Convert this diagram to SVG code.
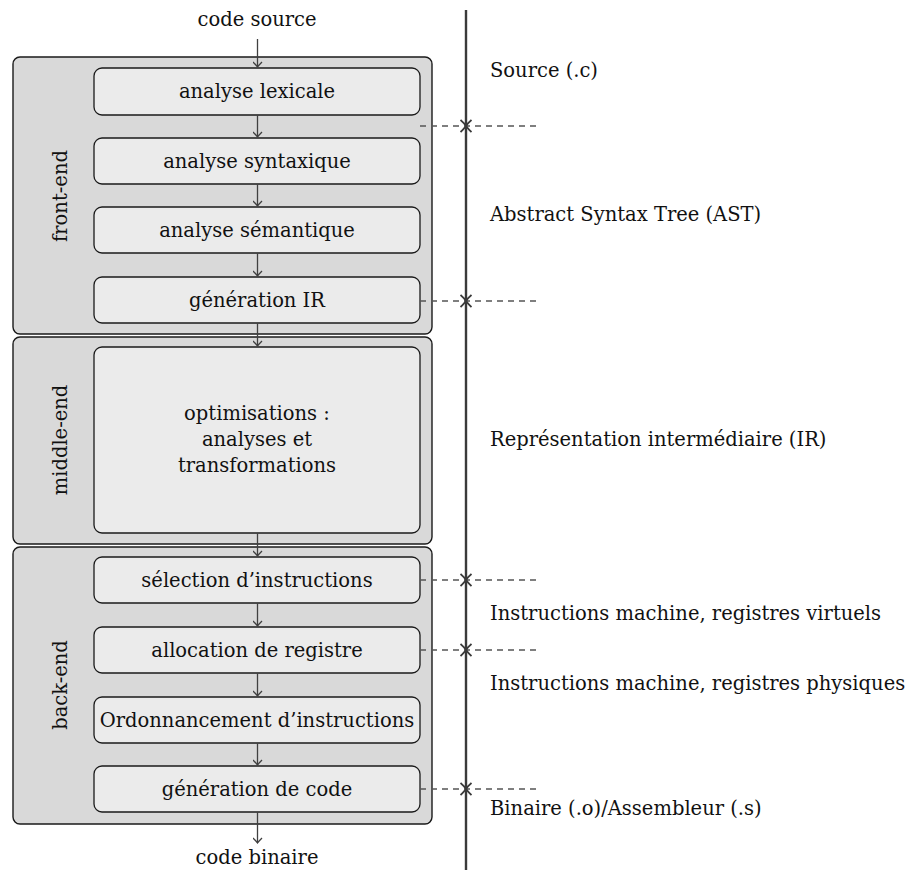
<svg xmlns="http://www.w3.org/2000/svg" width="912" height="870" viewBox="0 0 912 870">
<defs>
<style>
text{font-family:"DejaVu Serif","Liberation Serif",serif;font-size:19.5px;fill:#111}
.c{text-anchor:middle}
.outer{fill:#d9d9d9;stroke:#1a1a1a;stroke-width:1.4}
.inner{fill:#ebebeb;stroke:#1a1a1a;stroke-width:1.3}
.flow{stroke:#404040;stroke-width:1.3;fill:none;marker-end:url(#tip)}
.axis{stroke:#3a3a3a;stroke-width:2.4;fill:none}
.dash{stroke:#555;stroke-width:1.3;stroke-dasharray:6 5;fill:none}
</style>
<marker id="tip" viewBox="-6 -5 7 10" refX="0" refY="0" markerWidth="7" markerHeight="10" markerUnits="userSpaceOnUse" orient="auto">
<path d="M-5,-4.5 Q-1.5,-1 0,0 Q-1.5,1 -5,4.5" fill="none" stroke="#404040" stroke-width="1.3"/>
</marker>
<marker id="tipA" viewBox="-7 -6 8 12" refX="0" refY="0" markerWidth="8" markerHeight="12" markerUnits="userSpaceOnUse" orient="auto-start-reverse">
<path d="M-6,-5.5 Q-2,-1.2 0,0 Q-2,1.2 -6,5.5" fill="none" stroke="#3a3a3a" stroke-width="1.8"/>
</marker>
</defs>

<g id="frontend">
<rect class="outer" x="13" y="57" width="419" height="277" rx="7"/>
<text class="c" transform="translate(67,196) rotate(-90)">front-end</text>
</g>
<g id="middleend">
<rect class="outer" x="13" y="337" width="419" height="207" rx="7"/>
<text class="c" transform="translate(67,440) rotate(-90)">middle-end</text>
</g>
<g id="backend">
<rect class="outer" x="13" y="547" width="419" height="277" rx="7"/>
<text class="c" transform="translate(67,685) rotate(-90)">back-end</text>
</g>

<g id="lexicale"><rect class="inner" x="94" y="68" width="326" height="47" rx="8"/><text class="c" x="257" y="98">analyse lexicale</text></g>
<g id="syntaxique"><rect class="inner" x="94" y="138" width="326" height="46" rx="8"/><text class="c" x="257" y="168">analyse syntaxique</text></g>
<g id="semantique"><rect class="inner" x="94" y="207" width="326" height="46" rx="8"/><text class="c" x="257" y="237">analyse sémantique</text></g>
<g id="genir"><rect class="inner" x="94" y="277" width="326" height="46" rx="8"/><text class="c" x="257" y="307">génération IR</text></g>
<g id="optim"><rect class="inner" x="94" y="347" width="326" height="186" rx="8"/>
<text class="c" x="257" y="420">optimisations :</text>
<text class="c" x="257" y="446">analyses et</text>
<text class="c" x="257" y="472">transformations</text></g>
<g id="selection"><rect class="inner" x="94" y="557" width="326" height="46" rx="8"/><text class="c" x="257" y="587">sélection d’instructions</text></g>
<g id="allocation"><rect class="inner" x="94" y="627" width="326" height="46" rx="8"/><text class="c" x="257" y="657">allocation de registre</text></g>
<g id="ordonnancement"><rect class="inner" x="94" y="697" width="326" height="46" rx="8"/><text class="c" x="257" y="727">Ordonnancement d’instructions</text></g>
<g id="gencode"><rect class="inner" x="94" y="766" width="326" height="46" rx="8"/><text class="c" x="257" y="796">génération de code</text></g>

<g id="io">
<text class="c" x="257" y="26">code source</text>
<text class="c" x="257" y="864">code binaire</text>
</g>

<g id="levels">
<text x="490" y="77">Source (.c)</text>
<text x="490" y="221">Abstract Syntax Tree (AST)</text>
<text x="490" y="446">Représentation intermédiaire (IR)</text>
<text x="490" y="620">Instructions machine, registres virtuels</text>
<text x="490" y="690">Instructions machine, registres physiques</text>
<text x="490" y="815">Binaire (.o)/Assembleur (.s)</text>
</g>

<g id="connectors">
<line class="flow" x1="257.5" y1="39" x2="257.5" y2="67"/>
<line class="flow" x1="257.5" y1="115" x2="257.5" y2="137"/>
<line class="flow" x1="257.5" y1="184" x2="257.5" y2="206"/>
<line class="flow" x1="257.5" y1="253" x2="257.5" y2="276"/>
<line class="flow" x1="257.5" y1="323" x2="257.5" y2="346"/>
<line class="flow" x1="257.5" y1="533" x2="257.5" y2="556"/>
<line class="flow" x1="257.5" y1="603" x2="257.5" y2="626"/>
<line class="flow" x1="257.5" y1="673" x2="257.5" y2="696"/>
<line class="flow" x1="257.5" y1="743" x2="257.5" y2="765"/>
<line class="flow" x1="257.5" y1="812" x2="257.5" y2="843"/>

<line class="dash" x1="420" y1="126" x2="536" y2="126"/>
<line class="dash" x1="420" y1="301" x2="536" y2="301"/>
<line class="dash" x1="420" y1="580" x2="536" y2="580"/>
<line class="dash" x1="420" y1="650" x2="536" y2="650"/>
<line class="dash" x1="420" y1="789" x2="536" y2="789"/>

<line class="axis" x1="466" y1="10" x2="466" y2="126" marker-end="url(#tipA)"/>
<line class="axis" x1="466" y1="126" x2="466" y2="301" marker-start="url(#tipA)" marker-end="url(#tipA)"/>
<line class="axis" x1="466" y1="301" x2="466" y2="580" marker-start="url(#tipA)" marker-end="url(#tipA)"/>
<line class="axis" x1="466" y1="580" x2="466" y2="650" marker-start="url(#tipA)" marker-end="url(#tipA)"/>
<line class="axis" x1="466" y1="650" x2="466" y2="789" marker-start="url(#tipA)" marker-end="url(#tipA)"/>
<line class="axis" x1="466" y1="789" x2="466" y2="870" marker-start="url(#tipA)"/>
</g>
</svg>
